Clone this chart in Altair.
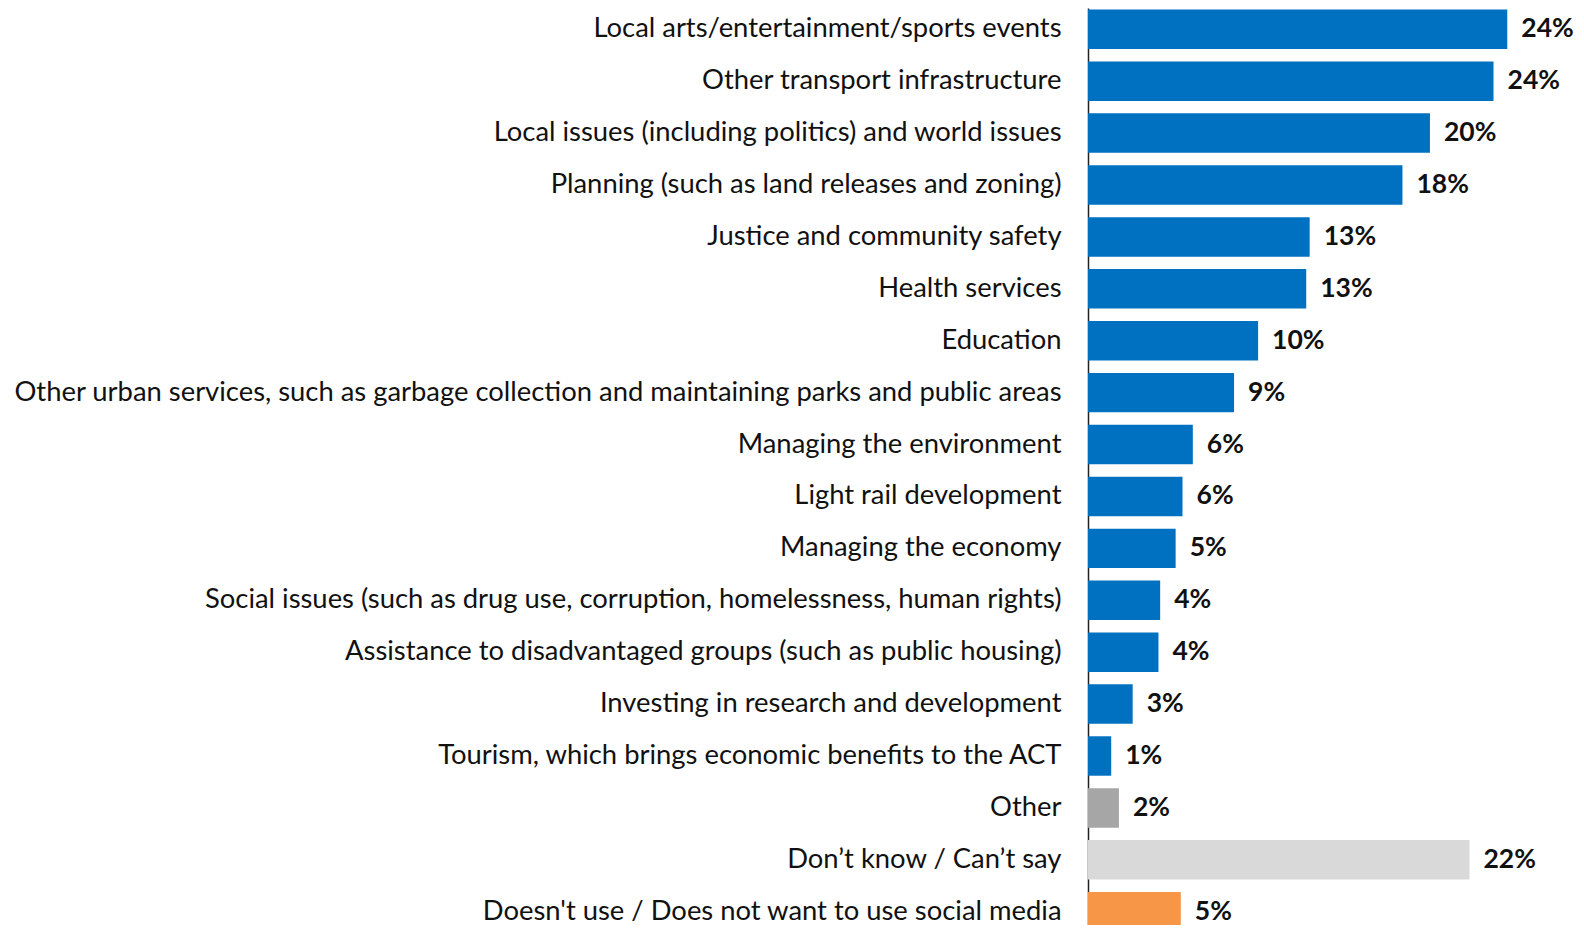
import altair as alt
import pandas as pd

categories = [
    "Local arts/entertainment/sports events",
    "Other transport infrastructure",
    "Local issues (including politics) and world issues",
    "Planning (such as land releases and zoning)",
    "Justice and community safety",
    "Health services",
    "Education",
    "Other urban services, such as garbage collection and maintaining parks and public areas",
    "Managing the environment",
    "Light rail development",
    "Managing the economy",
    "Social issues (such as drug use, corruption, homelessness, human rights)",
    "Assistance to disadvantaged groups (such as public housing)",
    "Investing in research and development",
    "Tourism, which brings economic benefits to the ACT",
    "Other",
    "Don\u2019t know / Can\u2019t say",
    "Doesn't use / Does not want to use social media",
]
values = [24.4, 23.6, 19.9, 18.3, 12.9, 12.7, 9.9, 8.5, 6.1, 5.5, 5.1, 4.2, 4.1, 2.6, 1.35, 1.8, 22.2, 5.4]
value_labels = ["24%", "24%", "20%", "18%", "13%", "13%", "10%", "9%", "6%", "6%", "5%", "4%", "4%", "3%", "1%", "2%", "22%", "5%"]
groups = ["main"] * 15 + ["other", "dontknow", "nouse"]
group_colors = {"main": "#0070C0", "other": "#A6A6A6", "dontknow": "#D9D9D9", "nouse": "#F79646"}

df = pd.DataFrame({"category": categories, "value": values, "label": value_labels, "group": groups})

FONT = "Lato"

y = alt.Y("category:N", sort=categories, title=None,
          scale=alt.Scale(paddingInner=0.24, paddingOuter=0.03),
          axis=alt.Axis(labelFontSize=27.4, labelFont=FONT, labelColor="#111111", labelPadding=27,
                        ticks=False, domainColor="#222222", domainWidth=1.5, labelLimit=1200))
x = alt.X("value:Q", scale=alt.Scale(domain=[0, 28.4], nice=False), axis=None)

bars = alt.Chart(df).mark_bar().encode(
    x=x, y=y,
    color=alt.Color("group:N", scale=alt.Scale(domain=list(group_colors.keys()), range=list(group_colors.values())), legend=None),
)
texts = alt.Chart(df).mark_text(align="left", baseline="middle", dx=14, fontSize=26.5, fontWeight="bold", font=FONT, color="#111111").encode(
    x=x, y=alt.Y("category:N", sort=categories), text="label:N"
)

chart = (bars + texts).properties(
    width=488, height=925,
    autosize=alt.AutoSizeParams(type="none"),
    padding={"left": 1080, "top": 0, "right": 0, "bottom": -8},
).configure_view(stroke=None)

chart.save("out.html", embed_options={"renderer": "svg", "actions": False})
